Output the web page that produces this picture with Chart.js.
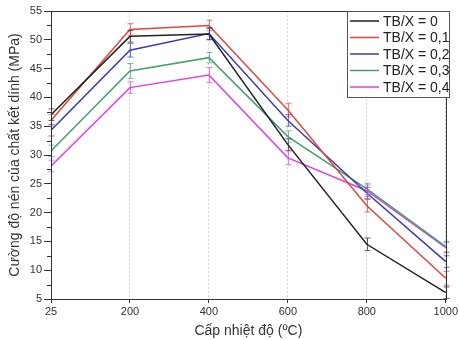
<!DOCTYPE html>
<html><head><meta charset="utf-8">
<script src="https://cdn.jsdelivr.net/npm/chart.js@4"></script>
<style>html,body{margin:0;padding:0;background:#fff}#wrap{width:460px;height:340px}</style>
</head><body><div id="wrap"><canvas id="c" width="460" height="340"></canvas></div>
<script>
const categories = ['25', '200', '400', '600', '800', '1000'];
const seriesNames = ['TB/X = 0', 'TB/X = 0,1', 'TB/X = 0,2', 'TB/X = 0,3', 'TB/X = 0,4'];
const tb0  = [37.0, 50.6, 51.0, 31.8, 14.5, 6.1];
const tb01 = [36.0, 51.8, 52.5, 37.8, 21.2, 8.6];
const tb02 = [34.3, 48.2, 51.1, 36.0, 23.4, 11.5];
const tb03 = [30.7, 44.6, 46.9, 33.2, 24.1, 14.1];
const tb04 = [28.1, 41.7, 43.9, 29.5, 23.8, 13.9];
const err0  = [1.0, 1.0, 1.0, 1.0, 1.1, 1.0];
const err01 = [1.0, 1.0, 0.9, 1.2, 1.1, 1.2];
const err02 = [1.0, 1.2, 1.0, 1.0, 1.0, 1.0];
const err03 = [1.0, 1.3, 0.9, 1.0, 1.0, 0.9];
const err04 = [1.0, 1.0, 1.3, 1.2, 1.0, 0.9];
const yTicks = [5, 10, 15, 20, 25, 30, 35, 40, 45, 50, 55];

const colors = ['#222222', '#e0473f', '#3b3bb0', '#45a070', '#e040e0'];
const values = [tb0, tb01, tb02, tb03, tb04];
const errors = [err0, err01, err02, err03, err04];

const errorBars = {
  id: 'errorBars',
  afterDatasetsDraw(chart) {
    const ctx = chart.ctx, y = chart.scales.y;
    chart.data.datasets.forEach((ds, i) => {
      const meta = chart.getDatasetMeta(i);
      ctx.save();
      ctx.strokeStyle = ds.borderColor;
      ctx.globalAlpha = 0.7;
      ctx.lineWidth = 1;
      meta.data.forEach((pt, j) => {
        const e = ds.errors[j];
        const v = ds.data[j];
        const yt = y.getPixelForValue(v + e), yb = y.getPixelForValue(v - e);
        const x = Math.round(pt.x) + 0.5;
        ctx.beginPath();
        ctx.moveTo(x, yt); ctx.lineTo(x, yb);
        ctx.moveTo(x - 3, yt); ctx.lineTo(x + 3, yt);
        ctx.moveTo(x - 3, yb); ctx.lineTo(x + 3, yb);
        ctx.stroke();
      });
      ctx.restore();
    });
  }
};

const frame = {
  id: 'frame',
  afterDraw(chart) {
    const ctx = chart.ctx, a = chart.chartArea, y = chart.scales.y;
    ctx.save();
    ctx.strokeStyle = '#333';
    ctx.lineWidth = 1;
    ctx.strokeRect(Math.round(a.left) + 0.5, Math.round(a.top) + 0.5, Math.round(a.right - a.left), Math.round(a.bottom - a.top));
    ctx.beginPath();
    for (let k = 0; k < yTicks.length - 1; k++) {
      const v = (yTicks[k] + yTicks[k + 1]) / 2;
      const py = Math.round(y.getPixelForValue(v)) + 0.5;
      ctx.moveTo(a.left - 4, py); ctx.lineTo(a.left, py);
    }
    ctx.stroke();
    const lx = 347, ly = 11, lw = 102, lh = 86;
    ctx.fillStyle = '#fff';
    ctx.fillRect(lx, ly, lw, lh);
    ctx.strokeStyle = '#555';
    ctx.strokeRect(lx + 0.5, ly + 0.5, lw, lh);
    ctx.font = '14px "Liberation Sans", Arial, sans-serif';
    ctx.textBaseline = 'middle';
    chart.data.datasets.forEach((ds, i) => {
      const cy = ly + 10 + i * 16.5;
      ctx.strokeStyle = ds.borderColor;
      ctx.lineWidth = 1.5;
      ctx.beginPath();
      ctx.moveTo(lx + 3, cy); ctx.lineTo(lx + 32, cy);
      ctx.stroke();
      ctx.fillStyle = '#222';
      ctx.fillText(ds.label, lx + 36, cy + 1);
    });
    ctx.restore();
  }
};

new Chart(document.getElementById('c'), {
  type: 'line',
  data: {
    labels: categories,
    datasets: values.map((v, i) => ({
      label: seriesNames[i],
      data: v,
      errors: errors[i],
      borderColor: colors[i],
      backgroundColor: colors[i],
      borderWidth: 1.5,
      pointRadius: 0,
      tension: 0,
      fill: false
    }))
  },
  options: {
    responsive: false,
    animation: false,
    devicePixelRatio: 1,
    layout: { padding: { top: 11, right: 11, left: 7, bottom: 0 } },
    plugins: { legend: { display: false }, tooltip: { enabled: false } },
    scales: {
      x: {
        type: 'category',
        offset: false,
        afterFit(s) { s.height = 41; },
        grid: {
          display: true, drawOnChartArea: true, drawTicks: true, tickLength: 4,
          color: '#d8d8d8', tickColor: '#333', lineWidth: 1,
        },
        border: { display: false, dash: [2, 2] },
        ticks: { color: '#333', font: { family: '"Liberation Sans", Arial, sans-serif', size: 11 }, padding: 2, maxRotation: 0 },
        title: { display: true, text: 'Cấp nhiệt độ (ºC)', color: '#333', font: { family: '"Liberation Sans", Arial, sans-serif', size: 14 }, padding: { top: 2, bottom: 0 } }
      },
      y: {
        min: 5, max: 55,
        afterFit(s) { s.width = 44; },
        afterBuildTicks(s) { s.ticks = yTicks.map(v => ({ value: v })); },
        grid: { drawOnChartArea: false, drawTicks: true, tickLength: 7, tickColor: '#333' },
        border: { display: false },
        ticks: { color: '#333', font: { family: '"Liberation Sans", Arial, sans-serif', size: 11 }, padding: 2 },
        title: { display: true, text: 'Cường độ nén của chất kết dính (MPa)', color: '#333', font: { family: '"Liberation Sans", Arial, sans-serif', size: 14 }, padding: { top: 0, bottom: 0 } }
      }
    }
  },
  plugins: [errorBars, frame]
});
</script>
</body></html>
